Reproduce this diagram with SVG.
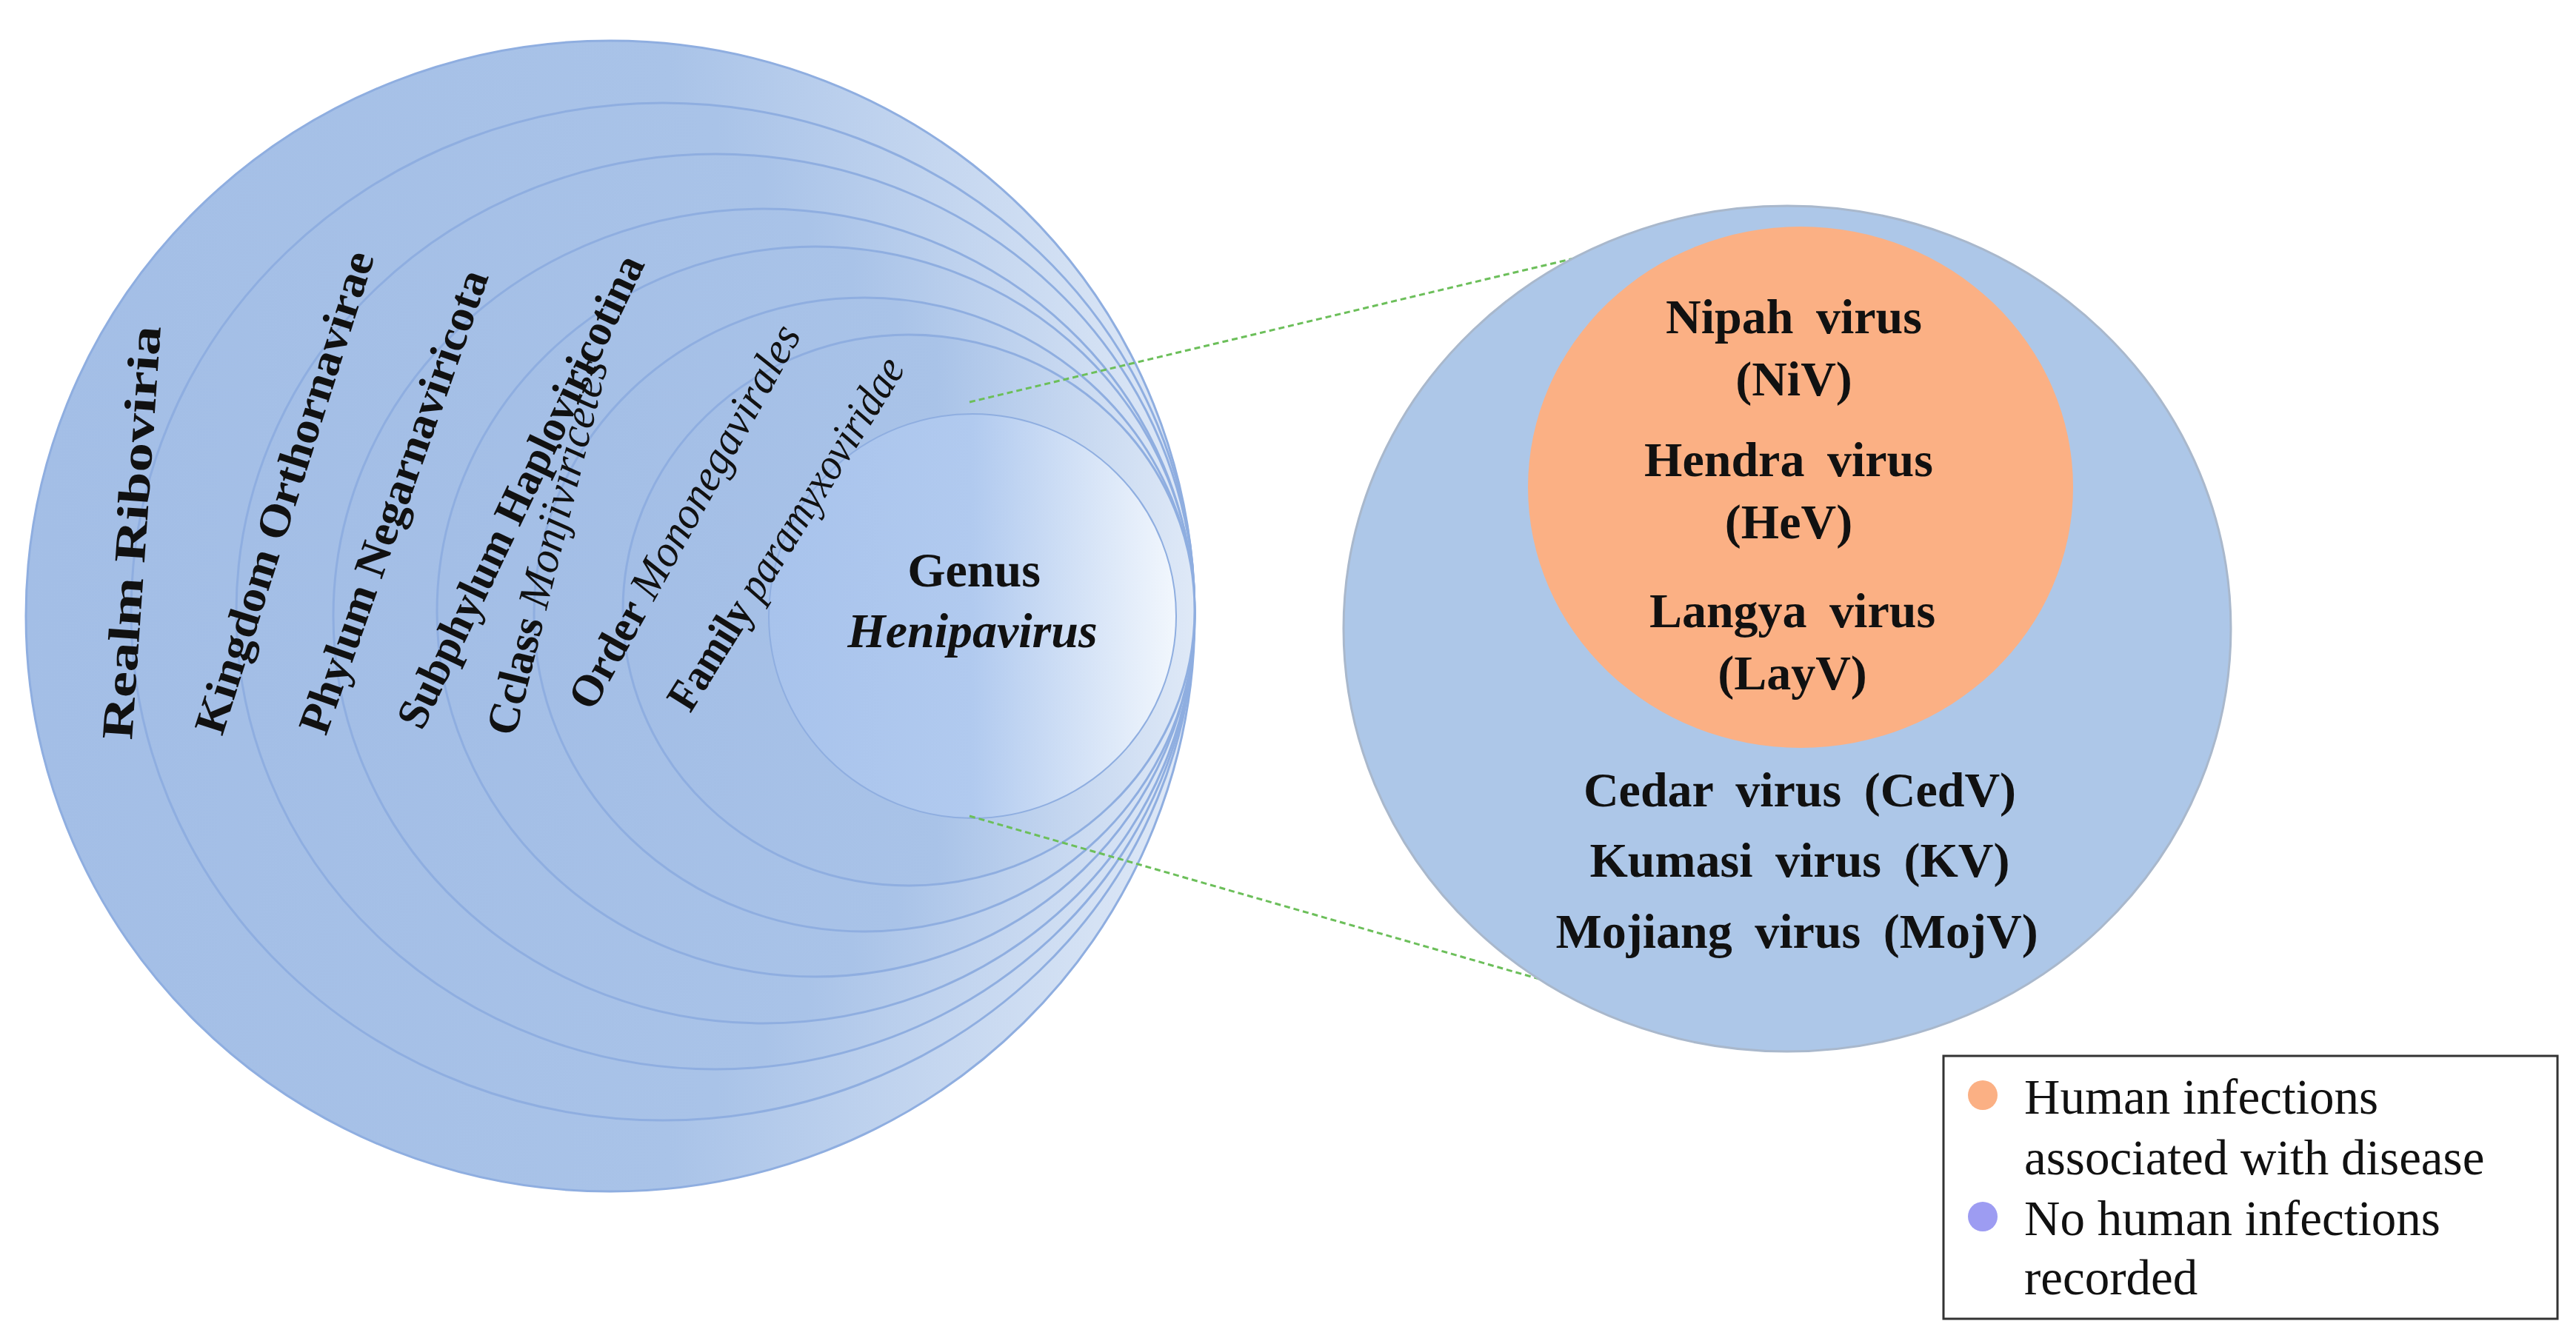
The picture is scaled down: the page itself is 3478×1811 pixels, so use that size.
<svg xmlns="http://www.w3.org/2000/svg" width="3478" height="1811" viewBox="0 0 3478 1811">
<style>
.ring{stroke:#8faee0;stroke-width:3;fill:url(#rg)}
.lab{font-family:"Liberation Serif",serif;font-weight:bold;font-size:60px;fill:#111}
.vt{font-family:"Liberation Serif",serif;font-weight:bold;font-size:66px;fill:#111;text-anchor:middle;word-spacing:14px}
.lg{font-family:"Liberation Serif",serif;font-size:67px;fill:#111}
</style>
<defs>
<linearGradient id="rg" x1="0" y1="0" x2="1" y2="0">
<stop offset="0" stop-color="#a3bee6"/><stop offset="0.55" stop-color="#a9c3e8"/><stop offset="1" stop-color="#dfe9f7"/>
</linearGradient>
<linearGradient id="gg" x1="0" y1="0" x2="1" y2="0">
<stop offset="0" stop-color="#a8c3ec"/><stop offset="0.5" stop-color="#b1caef"/><stop offset="1" stop-color="#f2f7fd"/>
</linearGradient>
</defs>
<g id="realm"><ellipse class="ring" cx="824" cy="832" rx="789" ry="777"/></g>
<g id="kingdom"><ellipse class="ring" cx="895" cy="826" rx="718" ry="687"/></g>
<g id="phylum"><ellipse class="ring" cx="966" cy="826" rx="647" ry="618"/></g>
<g id="subphylum"><ellipse class="ring" cx="1031" cy="832" rx="581" ry="550"/></g>
<g id="class"><ellipse class="ring" cx="1101" cy="826" rx="511" ry="493"/></g>
<g id="order"><ellipse class="ring" cx="1167" cy="830" rx="446" ry="428"/></g>
<g id="family"><ellipse class="ring" cx="1227" cy="824" rx="386" ry="372"/></g>
<g id="genus"><ellipse cx="1313" cy="832" rx="275" ry="273" fill="url(#gg)" stroke="#8faee0" stroke-width="2"/>
<text class="vt" x="1315" y="792" font-size="60">Genus</text><text class="vt" x="1313" y="874" font-size="60" font-style="italic">Henipavirus</text></g>
<g id="labels">
<text class="lab" transform="translate(178,1000) rotate(-86)" textLength="560" lengthAdjust="spacingAndGlyphs">Realm Riboviria</text>
<text class="lab" transform="translate(300,995) rotate(-72.4)" textLength="680" lengthAdjust="spacingAndGlyphs">Kingdom Orthornavirae</text>
<text class="lab" transform="translate(440,995) rotate(-70.5)" textLength="660" lengthAdjust="spacingAndGlyphs">Phylum Negarnaviricota</text>
<text class="lab" transform="translate(570,988) rotate(-64.5)" textLength="700" lengthAdjust="spacingAndGlyphs">Subphylum Haploviricotina</text>
<text class="lab" transform="translate(695,996) rotate(-76)" textLength="520" lengthAdjust="spacingAndGlyphs">Cclass <tspan font-style="italic" font-weight="normal">Monjiviricetes</tspan></text>
<text class="lab" transform="translate(800,962) rotate(-61)" textLength="583" lengthAdjust="spacingAndGlyphs">Order <tspan font-style="italic" font-weight="normal">Mononegavirales</tspan></text>
<text class="lab" transform="translate(932,964) rotate(-58)" textLength="550" lengthAdjust="spacingAndGlyphs">Family <tspan font-style="italic" font-weight="normal">paramyxoviridae</tspan></text>
</g>
<g id="connectors" stroke="#6cbf5a" stroke-width="3" stroke-dasharray="8,5" fill="none">
<line x1="1309" y1="543" x2="2129" y2="348"/><line x1="1309" y1="1102" x2="2085" y2="1324"/></g>
<g id="henipa"><ellipse cx="2413" cy="849" rx="599" ry="571" fill="#adc7e8" stroke="#a9b8cc" stroke-width="3"/>
<ellipse cx="2431" cy="658" rx="368" ry="352" fill="#fbb084"/>
<text class="vt" x="2422" y="450">Nipah virus</text><text class="vt" x="2422" y="534">(NiV)</text>
<text class="vt" x="2415" y="643">Hendra virus</text><text class="vt" x="2415" y="727">(HeV)</text>
<text class="vt" x="2420" y="847">Langya virus</text><text class="vt" x="2420" y="931">(LayV)</text>
<text class="vt" x="2430" y="1089">Cedar virus (CedV)</text><text class="vt" x="2430" y="1184">Kumasi virus (KV)</text><text class="vt" x="2426" y="1280">Mojiang virus (MojV)</text></g>
<g id="legend"><rect x="2624" y="1426" width="829" height="355" fill="#fff" stroke="#333" stroke-width="3"/>
<circle cx="2677" cy="1479" r="20" fill="#fbb084"/><circle cx="2677" cy="1643" r="20" fill="#9d9cf2"/>
<text class="lg" x="2733" y="1504">Human infections</text><text class="lg" x="2733" y="1586">associated with disease</text>
<text class="lg" x="2733" y="1668">No human infections</text><text class="lg" x="2733" y="1748">recorded</text></g>
</svg>
